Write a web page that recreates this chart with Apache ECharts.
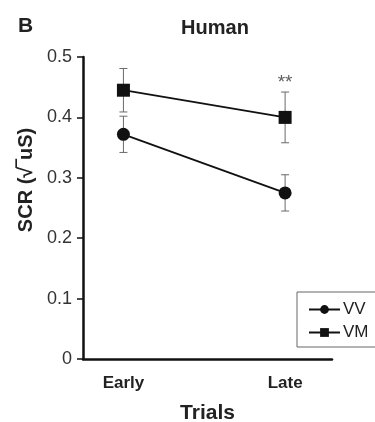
<!DOCTYPE html>
<html>
<head>
<meta charset="utf-8">
<script src="https://cdn.jsdelivr.net/npm/echarts@6/dist/echarts.min.js"></script>
<style>
  html, body { margin: 0; padding: 0; background: #fff; }
  #chart { width: 375px; height: 422px; }
</style>
</head>
<body>
<div id="chart"></div>
<script>
// trials: Early = 0, Late = 1 on the x value axis
const trials = ['Early', 'Late'];
const vvMean = [0.372, 0.275];
const vvErr = [0.030, 0.030];
const vmMean = [0.445, 0.400];
const vmErr = [0.036, 0.042];
const yTicks = [0, 0.1, 0.2, 0.3, 0.4, 0.5];
const signif = [{ x: 1, y: 0.458, text: '**' }];

const FONT = '"Liberation Sans", Arial, sans-serif';
const chart = echarts.init(document.getElementById('chart'), null, { renderer: 'canvas' });

function errBars(mean, err) {
  return mean.map((m, i) => [i, m - err[i], m + err[i]]);
}

const renderErr = (params, api) => {
  const x = api.value(0);
  const lo = api.coord([x, api.value(1)]);
  const hi = api.coord([x, api.value(2)]);
  const cap = 4;
  const style = { stroke: '#6a6a6a', lineWidth: 1 };
  return {
    type: 'group',
    children: [
      { type: 'line', shape: { x1: lo[0], y1: lo[1], x2: hi[0], y2: hi[1] }, style },
      { type: 'line', shape: { x1: lo[0] - cap, y1: lo[1], x2: lo[0] + cap, y2: lo[1] }, style },
      { type: 'line', shape: { x1: hi[0] - cap, y1: hi[1], x2: hi[0] + cap, y2: hi[1] }, style }
    ]
  };
};

const option = {
  backgroundColor: '#fff',
  animation: false,
  textStyle: { fontFamily: FONT },
  grid: { left: 83, right: 43, top: 57, bottom: 63, containLabel: false, outerBoundsMode: 'none' },
  title: [
    { text: 'B', left: 13, top: 11, textStyle: { fontSize: 21, fontWeight: 'bold', color: '#222', fontFamily: FONT } },
    { text: 'Human', left: 210, top: 13, textAlign: 'center', textStyle: { fontSize: 20, fontWeight: 'bold', color: '#222', fontFamily: FONT } }
  ],
  legend: {
    orient: 'vertical',
    left: 297,
    top: 292,
    padding: [9, 8, 6, 11],
    itemGap: 6,
    itemWidth: 31,
    itemHeight: 11,
    borderColor: '#666',
    borderWidth: 1,
    borderRadius: 0,
    textStyle: { fontSize: 17, color: '#222', fontFamily: FONT, padding: [0, 0, 0, -2] },
    data: ['VV', 'VM']
  },
  xAxis: {
    type: 'value',
    min: -0.25,
    max: 1.29,
    interval: 0.25,
    splitLine: { show: false },
    axisTick: { show: false },
    axisLine: { onZero: false, lineStyle: { color: '#111', width: 2.5 } },
    axisLabel: {
      showMaxLabel: false,
      margin: 16,
      fontSize: 17,
      fontWeight: 'bold',
      color: '#222',
      formatter: v => (Math.abs(v) < 1e-6 ? trials[0] : Math.abs(v - 1) < 1e-6 ? trials[1] : '')
    },
    name: 'Trials',
    nameLocation: 'middle',
    nameGap: 44,
    nameTextStyle: { fontSize: 21, fontWeight: 'bold', color: '#222', fontFamily: FONT }
  },
  yAxis: {
    type: 'value',
    min: 0,
    max: 0.5,
    interval: 0.1,
    splitLine: { show: false },
    axisLine: { show: true, onZero: false, lineStyle: { color: '#111', width: 2.5 } },
    axisTick: { show: true, length: 6, lineStyle: { color: '#111', width: 1.5 } },
    axisLabel: {
      fontSize: 18,
      color: '#333',
      margin: 11,
      formatter: v => {
        const t = yTicks.find(k => Math.abs(k - v) < 1e-6);
        return t === 0 ? '0' : String(t);
      }
    }
  },
  graphic: [
    {
      type: 'text',
      x: 26,
      y: 180,
      rotation: Math.PI / 2,
      style: {
        text: 'SCR (√‾uS)',
        font: 'bold 20px ' + FONT,
        fill: '#222',
        textAlign: 'center',
        textVerticalAlign: 'middle'
      }
    }
  ],
  series: [
    {
      type: 'custom',
      name: 'vvErr',
      renderItem: renderErr,
      data: errBars(vvMean, vvErr),
      z: 1,
      silent: true
    },
    {
      type: 'custom',
      name: 'vmErr',
      renderItem: renderErr,
      data: errBars(vmMean, vmErr),
      z: 1,
      silent: true
    },
    {
      name: 'VV',
      type: 'line',
      data: vvMean.map((v, i) => [i, v]),
      symbol: 'circle',
      symbolSize: 13,
      lineStyle: { color: '#111', width: 1.8 },
      itemStyle: { color: '#111' },
      z: 3
    },
    {
      name: 'VM',
      type: 'line',
      data: vmMean.map((v, i) => [i, v]),
      symbol: 'rect',
      symbolSize: 13,
      lineStyle: { color: '#111', width: 1.8 },
      itemStyle: { color: '#111' },
      z: 3
    },
    {
      type: 'scatter',
      name: 'signif',
      data: signif.map(s => ({ value: [s.x, s.y], label: { formatter: s.text } })),
      symbolSize: 0,
      silent: true,
      label: { show: true, position: 'inside', fontSize: 19, color: '#333', fontFamily: FONT }
    }
  ]
};

chart.setOption(option);
</script>
</body>
</html>
